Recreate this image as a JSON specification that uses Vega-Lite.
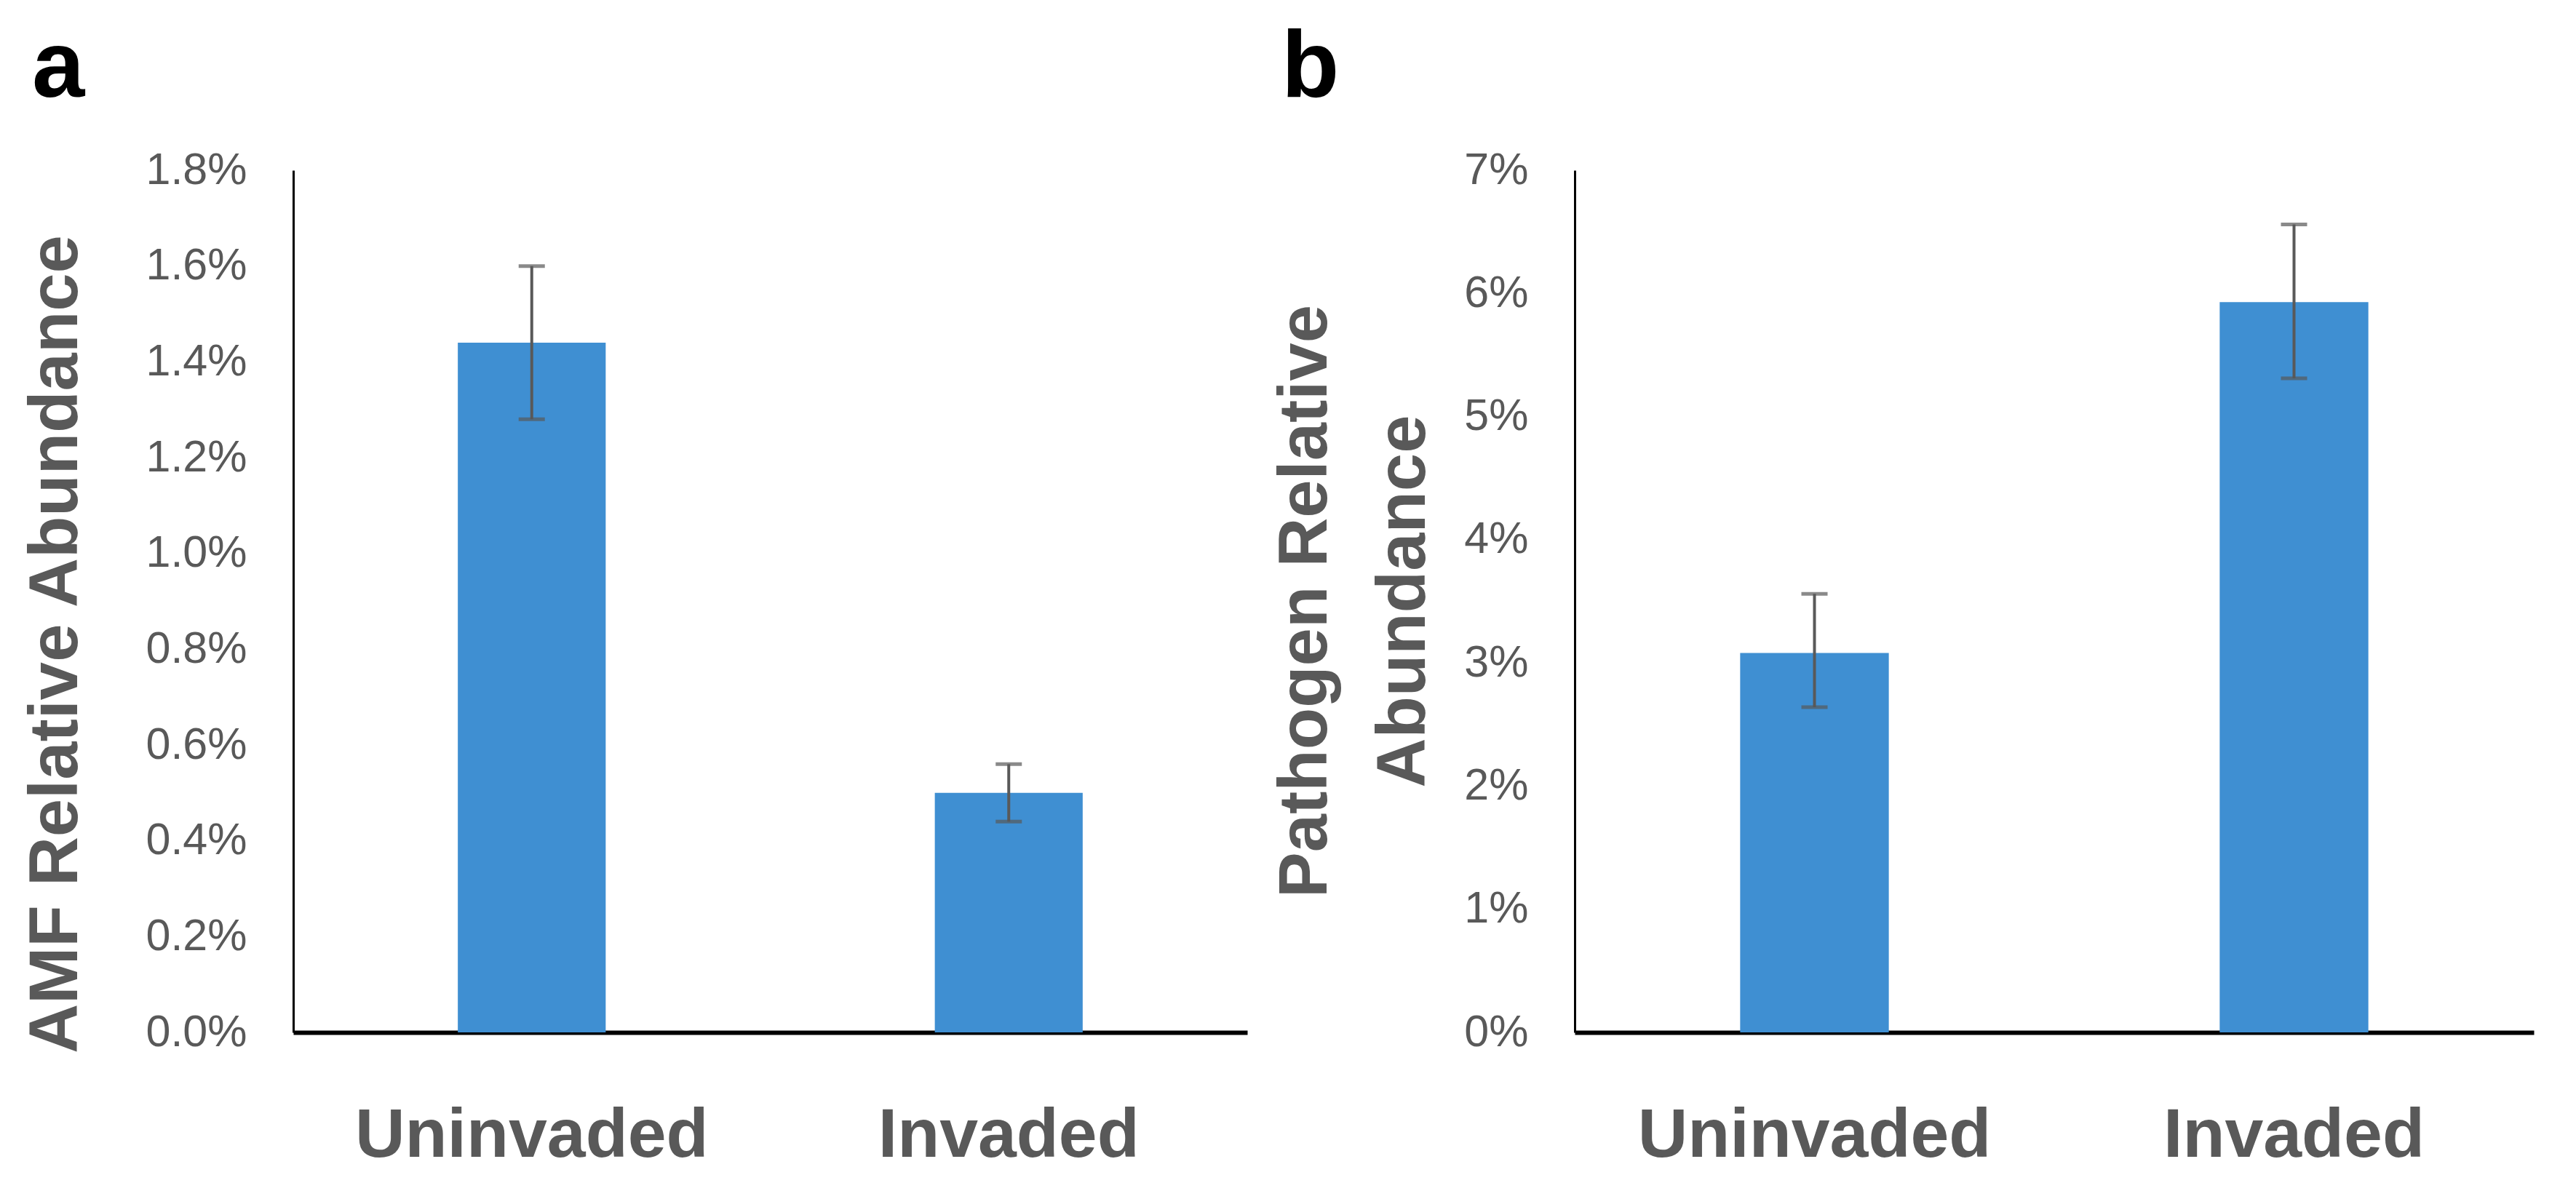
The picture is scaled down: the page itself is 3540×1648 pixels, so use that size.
{
  "$schema": "https://vega.github.io/schema/vega-lite/v6.json",
  "background": "white",
  "padding": {"left": 30, "top": 29, "right": 10, "bottom": 10},
  "spacing": 32,
  "config": {
    "view": {"stroke": null},
    "font": "Liberation Sans",
    "axis": {"grid": false, "ticks": false, "tickSize": 0, "labelColor": "#595959", "titleColor": "#595959", "labelFont": "Liberation Sans", "titleFont": "Liberation Sans", "labelLimit": 0},
    "axisY": {"domainColor": "#000000", "domainWidth": 3, "labelFontSize": 61, "labelPadding": 64, "titleFontSize": 94, "titleFontWeight": "bold", "labelFontWeight": "normal"},
    "axisX": {"domainColor": "#000000", "domainWidth": 6, "labelFontSize": 95, "labelFontWeight": "bold", "labelPadding": 95, "labelAngle": 0},
    "title": {"fontSize": 130, "fontWeight": "bold", "color": "#000000", "anchor": "start", "frame": "bounds", "font": "Liberation Sans", "offset": 43, "baseline": "alphabetic", "dx": 14}
  },
  "hconcat": [
    {
      "title": {"text": "a"},
      "width": 1311,
      "height": 1185,
      "data": {"values": [
        {"group": "Uninvaded", "value": 0.0144, "lo": 0.0128, "hi": 0.0160},
        {"group": "Invaded", "value": 0.0050, "lo": 0.0044, "hi": 0.0056}
      ]},
      "encoding": {
        "x": {"field": "group", "type": "nominal", "sort": ["Uninvaded", "Invaded"], "title": null, "scale": {"paddingInner": 0.69, "paddingOuter": 0.345}}
      },
      "layer": [
        {"mark": {"type": "bar", "color": "#3f8fd2"},
         "encoding": {"y": {"field": "value", "type": "quantitative", "title": "AMF Relative Abundance", "scale": {"domain": [0, 0.018], "nice": false},
           "axis": {"format": ".1%", "values": [0, 0.002, 0.004, 0.006, 0.008, 0.010, 0.012, 0.014, 0.016, 0.018], "titleX": -278, "titleY": 651}}}},
        {"mark": {"type": "rule", "color": "#595959", "strokeWidth": 4},
         "encoding": {"y": {"field": "lo", "type": "quantitative", "title": "AMF Relative Abundance"}, "y2": {"field": "hi"}}},
        {"mark": {"type": "tick", "color": "#595959", "thickness": 5, "size": 36},
         "encoding": {"y": {"field": "lo", "type": "quantitative", "title": "AMF Relative Abundance"}}},
        {"mark": {"type": "tick", "color": "#595959", "thickness": 5, "size": 36},
         "encoding": {"y": {"field": "hi", "type": "quantitative", "title": "AMF Relative Abundance"}}}
      ]
    },
    {
      "title": {"text": "b"},
      "width": 1318,
      "height": 1185,
      "data": {"values": [
        {"group": "Uninvaded", "value": 0.0308, "lo": 0.0264, "hi": 0.0356},
        {"group": "Invaded", "value": 0.0593, "lo": 0.0531, "hi": 0.0656}
      ]},
      "encoding": {
        "x": {"field": "group", "type": "nominal", "sort": ["Uninvaded", "Invaded"], "title": null, "scale": {"paddingInner": 0.69, "paddingOuter": 0.345}}
      },
      "layer": [
        {"mark": {"type": "bar", "color": "#3f8fd2"},
         "encoding": {"y": {"field": "value", "type": "quantitative", "title": ["Pathogen Relative", "Abundance"], "scale": {"domain": [0, 0.07], "nice": false},
           "axis": {"format": ".0%", "values": [0, 0.01, 0.02, 0.03, 0.04, 0.05, 0.06, 0.07], "titleX": -322, "titleY": 592, "titleLineHeight": 135}}}},
        {"mark": {"type": "rule", "color": "#595959", "strokeWidth": 4},
         "encoding": {"y": {"field": "lo", "type": "quantitative", "title": ["Pathogen Relative", "Abundance"]}, "y2": {"field": "hi"}}},
        {"mark": {"type": "tick", "color": "#595959", "thickness": 5, "size": 36},
         "encoding": {"y": {"field": "lo", "type": "quantitative", "title": ["Pathogen Relative", "Abundance"]}}},
        {"mark": {"type": "tick", "color": "#595959", "thickness": 5, "size": 36},
         "encoding": {"y": {"field": "hi", "type": "quantitative", "title": ["Pathogen Relative", "Abundance"]}}}
      ]
    }
  ]
}
